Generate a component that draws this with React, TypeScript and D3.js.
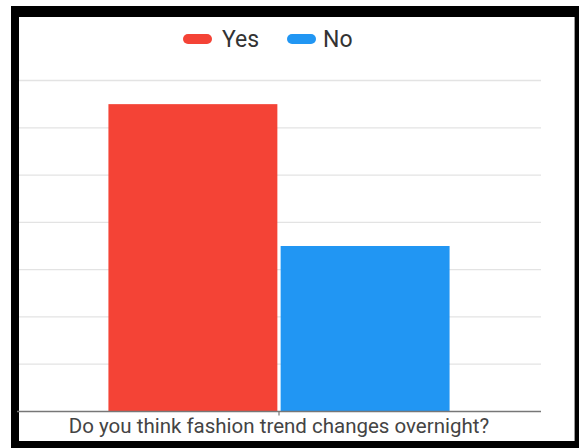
import React from "react";
import * as d3 from "d3";

const categories = ["Do you think fashion trend changes overnight?"];
const seriesNames = ["Yes", "No"];
const yesValues = [65];
const noValues = [35];
const gridTicks = [0, 10, 20, 30, 40, 50, 60, 70];
const colors = ["#F44336", "#2196F3"];

const W = 579;
const H = 448;

export default function App() {
  const plotLeft = 17;
  const plotRight = 541;
  const plotTop = 80.5;
  const plotBottom = 411.5;

  const y = d3.scaleLinear().domain([0, 70]).range([plotBottom, plotTop]);
  const x0 = d3
    .scaleBand<string>()
    .domain(categories)
    .range([plotLeft, plotRight])
    .paddingInner(0)
    .paddingOuter(0.268);
  const x1 = d3
    .scaleBand<string>()
    .domain(seriesNames)
    .range([0, x0.bandwidth()])
    .paddingInner(0.019);
  const seriesValues = [yesValues, noValues];

  const font = "Roboto, 'Noto Sans', sans-serif";

  return (
    <svg
      width={W}
      height={H}
      style={{ position: "absolute", left: 0, top: 0, background: "#fff" }}
    >
      <rect x={0} y={0} width={W} height={H} fill="#fff" />
      <rect x={11} y={6} width={568} height={442} fill="#000" />
      <rect x={19} y={17} width={556} height={424} fill="#fff" />
      <line x1={574.5} x2={574.5} y1={17} y2={441} stroke="#999" strokeWidth={1} />

      {gridTicks.slice(1).map((t) => (
        <line
          key={t}
          x1={19}
          x2={plotRight}
          y1={y(t)}
          y2={y(t)}
          stroke="#e3e3e3"
          strokeWidth={1.3}
        />
      ))}

      {categories.map((c, ci) => (
        <g key={c} transform={`translate(${x0(c)},0)`}>
          {seriesNames.map((s, si) => (
            <rect
              key={s}
              x={x1(s)}
              y={y(seriesValues[si][ci])}
              width={x1.bandwidth()}
              height={y(0) - y(seriesValues[si][ci])}
              fill={colors[si]}
            />
          ))}
        </g>
      ))}

      <line
        x1={plotLeft}
        x2={plotRight}
        y1={plotBottom}
        y2={plotBottom}
        stroke="#777"
        strokeWidth={1.5}
      />
      {categories.map((c) => (
        <line
          key={c}
          x1={(x0(c) as number) + x0.bandwidth() / 2}
          x2={(x0(c) as number) + x0.bandwidth() / 2}
          y1={plotBottom}
          y2={plotBottom + 4}
          stroke="#777"
          strokeWidth={1.2}
        />
      ))}
      {categories.map((c) => (
        <text
          key={c}
          x={(x0(c) as number) + x0.bandwidth() / 2}
          y={432.5}
          textAnchor="middle"
          fontFamily={font}
          fontSize={20.5}
          fill="#444"
        >
          {c}
        </text>
      ))}

      <g>
        <rect x={183} y={34} width={29} height={10} rx={5} fill={colors[0]} />
        <text x={222} y={47} fontFamily={font} fontSize={23} fill="#333">
          {seriesNames[0]}
        </text>
        <rect x={287} y={34} width={29} height={10} rx={5} fill={colors[1]} />
        <text x={323} y={47} fontFamily={font} fontSize={23} fill="#333">
          {seriesNames[1]}
        </text>
      </g>
    </svg>
  );
}
